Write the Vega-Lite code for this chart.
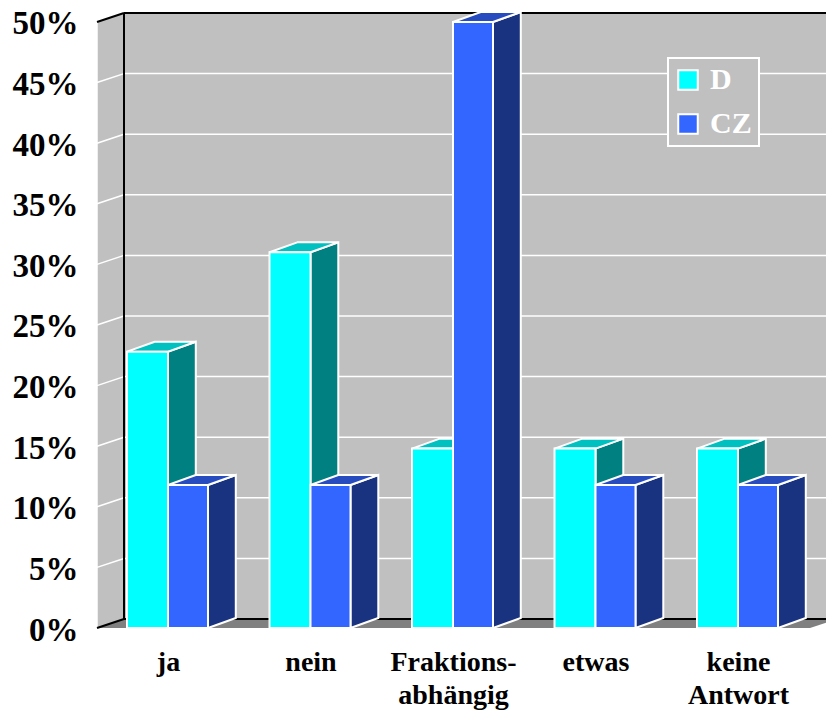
{
"$schema":"https://vega.github.io/schema/vega-lite/v6.json",
"width":729,"height":615,
"autosize":"none",
"padding":{"left":97,"top":13,"right":0,"bottom":83},
"background":"white",
"config":{"view":{"stroke":null},"legend":{"strokeWidth":2},"axis":{"grid":false,"domain":false,"ticks":false}},
"datasets":{
"bars":[
{"n":1,"cat":"ja","series":"D","value":22.8},{"n":1,"cat":"ja","series":"CZ","value":11.8},
{"n":2,"cat":"nein","series":"D","value":31},{"n":2,"cat":"nein","series":"CZ","value":11.8},
{"n":3,"cat":"Fraktions-abhängig","series":"D","value":14.8},{"n":3,"cat":"Fraktions-abhängig","series":"CZ","value":50},
{"n":4,"cat":"etwas","series":"D","value":14.8},{"n":4,"cat":"etwas","series":"CZ","value":11.8},
{"n":5,"cat":"keine Antwort","series":"D","value":14.8},{"n":5,"cat":"keine Antwort","series":"CZ","value":11.8}],
"ticks":[{"v":0},{"v":5},{"v":10},{"v":15},{"v":20},{"v":25},{"v":30},{"v":35},{"v":40},{"v":45},{"v":50}],
"depths":[{"depth":0},{"depth":1}]
},
"layer":[
{"data":{"name":"ticks"},"mark":{"type":"rect","fill":"#C0C0C0"},
 "encoding":{
  "x":{"datum":0.69123,"type":"quantitative","scale":{"domain":[0.50175,5.61754],"nice":false,"zero":false},
   "axis":{"values":[1,2,3,4,5],"title":null,"grid":false,"domain":false,"ticks":false,"labelFont":"Liberation Serif","labelFontWeight":"bold","labelFontSize":28,"labelColor":"#000000","labelPadding":20,"labelLineHeight":33,"labelBaseline":"top","labelFlush":false,"labelOverlap":false,"labelBound":false,
   "labelExpr":"[['ja'],['nein'],['Fraktions-','abhängig'],['etwas'],['keine','Antwort']][datum.value-1]"}},
  "x2":{"datum":5.61754},
  "y":{"datum":0.74,"type":"quantitative","scale":{"domain":[0,50.74],"nice":false,"zero":false},
   "axis":{"values":[0,5,10,15,20,25,30,35,40,45,50],"title":null,"grid":false,"domain":false,"ticks":false,"labelFont":"Liberation Serif","labelFontWeight":"bold","labelFontSize":33,"labelColor":"#000000","labelPadding":19,"labelOffset":2,"labelBaseline":"middle","labelOverlap":false,"labelBound":false,"labelFlush":false,"labelExpr":"datum.value+'%'"}},
  "y2":{"datum":50.74}}},
{"data":{"name":"depths"},
 "transform":[{"calculate":"0.50175+datum.depth*0.18947","as":"x"},{"calculate":"datum.depth*0.74","as":"lo"},{"calculate":"50+datum.depth*0.74","as":"hi"}],
 "mark":{"type":"area","orient":"vertical","fill":"#C0C0C0"},
 "encoding":{"x":{"field":"x","type":"quantitative","scale":{"domain":[0.50175,5.61754],"nice":false,"zero":false},"axis":{"title":null}},
  "y":{"field":"lo","type":"quantitative","scale":{"domain":[0,50.74],"nice":false,"zero":false},"axis":{"title":null}},"y2":{"field":"hi"}}},
{"data":{"name":"depths"},
 "transform":[{"calculate":"0.50175+datum.depth*0.18947","as":"x"},{"calculate":"5.50526+datum.depth*0.18947","as":"xe"},{"calculate":"datum.depth*0.74","as":"y"}],
 "mark":{"type":"area","orient":"horizontal","fill":"#808080","clip":true},
 "encoding":{"y":{"field":"y","type":"quantitative","scale":{"domain":[0,50.74],"nice":false,"zero":false},"axis":{"title":null}},
  "x":{"field":"x","type":"quantitative","scale":{"domain":[0.50175,5.61754],"nice":false,"zero":false},"axis":{"title":null}},"x2":{"field":"xe"}}},
{"data":{"name":"ticks"},"transform":[{"filter":"datum.v>0 && datum.v<50"},{"calculate":"datum.v+0.74","as":"vb"}],
 "layer":[
 {"mark":{"type":"rule","color":"white","strokeWidth":1.5},
  "encoding":{"x":{"datum":0.50175,"type":"quantitative","scale":{"domain":[0.50175,5.61754],"nice":false,"zero":false},"axis":{"title":null}},"x2":{"datum":0.69123},
   "y":{"field":"v","type":"quantitative","scale":{"domain":[0,50.74],"nice":false,"zero":false},"axis":{"title":null}},"y2":{"field":"vb"}}},
 {"mark":{"type":"rule","color":"white","strokeWidth":1.5},
  "encoding":{"x":{"datum":0.69123,"type":"quantitative","scale":{"domain":[0.50175,5.61754],"nice":false,"zero":false},"axis":{"title":null}},"x2":{"datum":5.61754},
   "y":{"field":"vb","type":"quantitative","scale":{"domain":[0,50.74],"nice":false,"zero":false},"axis":{"title":null}}}}
 ]},
{"data":{"name":"ticks"},"transform":[{"filter":"datum.v==0"}],
 "mark":{"type":"rule","color":"white","strokeWidth":1.5},
 "encoding":{"x":{"datum":0.50175,"type":"quantitative","scale":{"domain":[0.50175,5.61754],"nice":false,"zero":false},"axis":{"title":null}},
  "y":{"datum":0,"type":"quantitative","scale":{"domain":[0,50.74],"nice":false,"zero":false},"axis":{"title":null}},"y2":{"datum":50}}},
{"data":{"name":"ticks"},"transform":[{"filter":"datum.v==0 || datum.v==50"},{"calculate":"datum.v+0.74","as":"vb"}],
 "layer":[
 {"mark":{"type":"rule","color":"black","strokeWidth":2},
  "encoding":{"x":{"datum":0.50175,"type":"quantitative","scale":{"domain":[0.50175,5.61754],"nice":false,"zero":false},"axis":{"title":null}},"x2":{"datum":0.69123},
   "y":{"field":"v","type":"quantitative","scale":{"domain":[0,50.74],"nice":false,"zero":false},"axis":{"title":null}},"y2":{"field":"vb"}}},
 {"mark":{"type":"rule","color":"black","strokeWidth":2},
  "encoding":{"x":{"datum":0.69123,"type":"quantitative","scale":{"domain":[0.50175,5.61754],"nice":false,"zero":false},"axis":{"title":null}},"x2":{"datum":5.61754},
   "y":{"field":"vb","type":"quantitative","scale":{"domain":[0,50.74],"nice":false,"zero":false},"axis":{"title":null}}}}
 ]},
{"data":{"name":"ticks"},"transform":[{"filter":"datum.v==0"}],
 "mark":{"type":"rule","color":"black","strokeWidth":2},
 "encoding":{"x":{"datum":0.69123,"type":"quantitative","scale":{"domain":[0.50175,5.61754],"nice":false,"zero":false},"axis":{"title":null}},
  "y":{"datum":0.74,"type":"quantitative","scale":{"domain":[0,50.74],"nice":false,"zero":false},"axis":{"title":null}},"y2":{"datum":50.74}}},
{"data":{"name":"bars"},
 "transform":[
  {"calculate":"datum.series=='D' ? datum.n-0.2877 : datum.n","as":"xl"},
  {"calculate":"datum.series=='D' ? datum.n : datum.n+0.2807","as":"xr"},
  {"calculate":"0","as":"d0"},{"calculate":"1","as":"d1"},
  {"fold":["d0","d1"],"as":["corner","depth"]},
  {"calculate":"datum.xl+datum.depth*0.195","as":"fxl"},
  {"calculate":"datum.xr+datum.depth*0.195","as":"fxr"},
  {"calculate":"datum.depth*0.82","as":"fy0"},
  {"calculate":"datum.value+datum.depth*0.82","as":"fy1"}
 ],
 "layer":[
 {"transform":[{"filter":"datum.series=='D'"}],"mark":{"type":"area","orient":"vertical","fill":"#008080","stroke":"white","strokeWidth":2},
  "encoding":{"detail":{"field":"n"},"x":{"field":"fxr","type":"quantitative","scale":{"domain":[0.50175,5.61754],"nice":false,"zero":false},"axis":{"title":null}},
   "y":{"field":"fy1","type":"quantitative","scale":{"domain":[0,50.74],"nice":false,"zero":false},"axis":{"title":null}},"y2":{"field":"fy0"}}},
 {"transform":[{"filter":"datum.series=='D'"}],"mark":{"type":"area","orient":"horizontal","fill":"#00C0C0","stroke":"white","strokeWidth":2},
  "encoding":{"detail":{"field":"n"},"y":{"field":"fy1","type":"quantitative","scale":{"domain":[0,50.74],"nice":false,"zero":false},"axis":{"title":null}},
   "x":{"field":"fxl","type":"quantitative","scale":{"domain":[0.50175,5.61754],"nice":false,"zero":false},"axis":{"title":null}},"x2":{"field":"fxr"}}},
 {"transform":[{"filter":"datum.series=='D' && datum.depth==0"}],"mark":{"type":"rect","stroke":"white","strokeWidth":2},
  "encoding":{"x":{"field":"xl","type":"quantitative","scale":{"domain":[0.50175,5.61754],"nice":false,"zero":false},"axis":{"title":null}},"x2":{"field":"xr"},
   "y":{"field":"value","type":"quantitative","scale":{"domain":[0,50.74],"nice":false,"zero":false},"axis":{"title":null}},"y2":{"datum":0},
   "color":{"field":"series","type":"nominal","scale":{"domain":["D","CZ"],"range":["#00FFFF","#3366FF"]},
    "legend":{"title":null,"orient":"none","legendX":571,"legendY":45,"fillColor":"#C0C0C0","strokeColor":"white","padding":7,"symbolType":"square","symbolSize":380,"symbolOffset":-2,"symbolStrokeColor":"white","symbolStrokeWidth":2,"symbolOpacity":1,"labelFont":"Liberation Serif","labelFontWeight":"bold","labelFontSize":30,"labelColor":"white","labelOffset":7,"rowPadding":14,"labelLimit":200}}}},
 {"transform":[{"filter":"datum.series=='CZ'"}],"mark":{"type":"area","orient":"vertical","fill":"#1A3380","stroke":"white","strokeWidth":2},
  "encoding":{"detail":{"field":"n"},"x":{"field":"fxr","type":"quantitative","scale":{"domain":[0.50175,5.61754],"nice":false,"zero":false},"axis":{"title":null}},
   "y":{"field":"fy1","type":"quantitative","scale":{"domain":[0,50.74],"nice":false,"zero":false},"axis":{"title":null}},"y2":{"field":"fy0"}}},
 {"transform":[{"filter":"datum.series=='CZ'"}],"mark":{"type":"area","orient":"horizontal","fill":"#264CBF","stroke":"white","strokeWidth":2},
  "encoding":{"detail":{"field":"n"},"y":{"field":"fy1","type":"quantitative","scale":{"domain":[0,50.74],"nice":false,"zero":false},"axis":{"title":null}},
   "x":{"field":"fxl","type":"quantitative","scale":{"domain":[0.50175,5.61754],"nice":false,"zero":false},"axis":{"title":null}},"x2":{"field":"fxr"}}},
 {"transform":[{"filter":"datum.series=='CZ' && datum.depth==0"}],"mark":{"type":"rect","stroke":"white","strokeWidth":2},
  "encoding":{"x":{"field":"xl","type":"quantitative","scale":{"domain":[0.50175,5.61754],"nice":false,"zero":false},"axis":{"title":null}},"x2":{"field":"xr"},
   "y":{"field":"value","type":"quantitative","scale":{"domain":[0,50.74],"nice":false,"zero":false},"axis":{"title":null}},"y2":{"datum":0},
   "color":{"field":"series","type":"nominal","scale":{"domain":["D","CZ"],"range":["#00FFFF","#3366FF"]},"legend":{"title":null,"orient":"none","legendX":571,"legendY":45,"fillColor":"#C0C0C0","strokeColor":"white","padding":7,"symbolType":"square","symbolSize":380,"symbolOffset":-2,"symbolStrokeColor":"white","symbolStrokeWidth":2,"symbolOpacity":1,"labelFont":"Liberation Serif","labelFontWeight":"bold","labelFontSize":30,"labelColor":"white","labelOffset":7,"rowPadding":14,"labelLimit":200}}}}
 ]}
]
}
